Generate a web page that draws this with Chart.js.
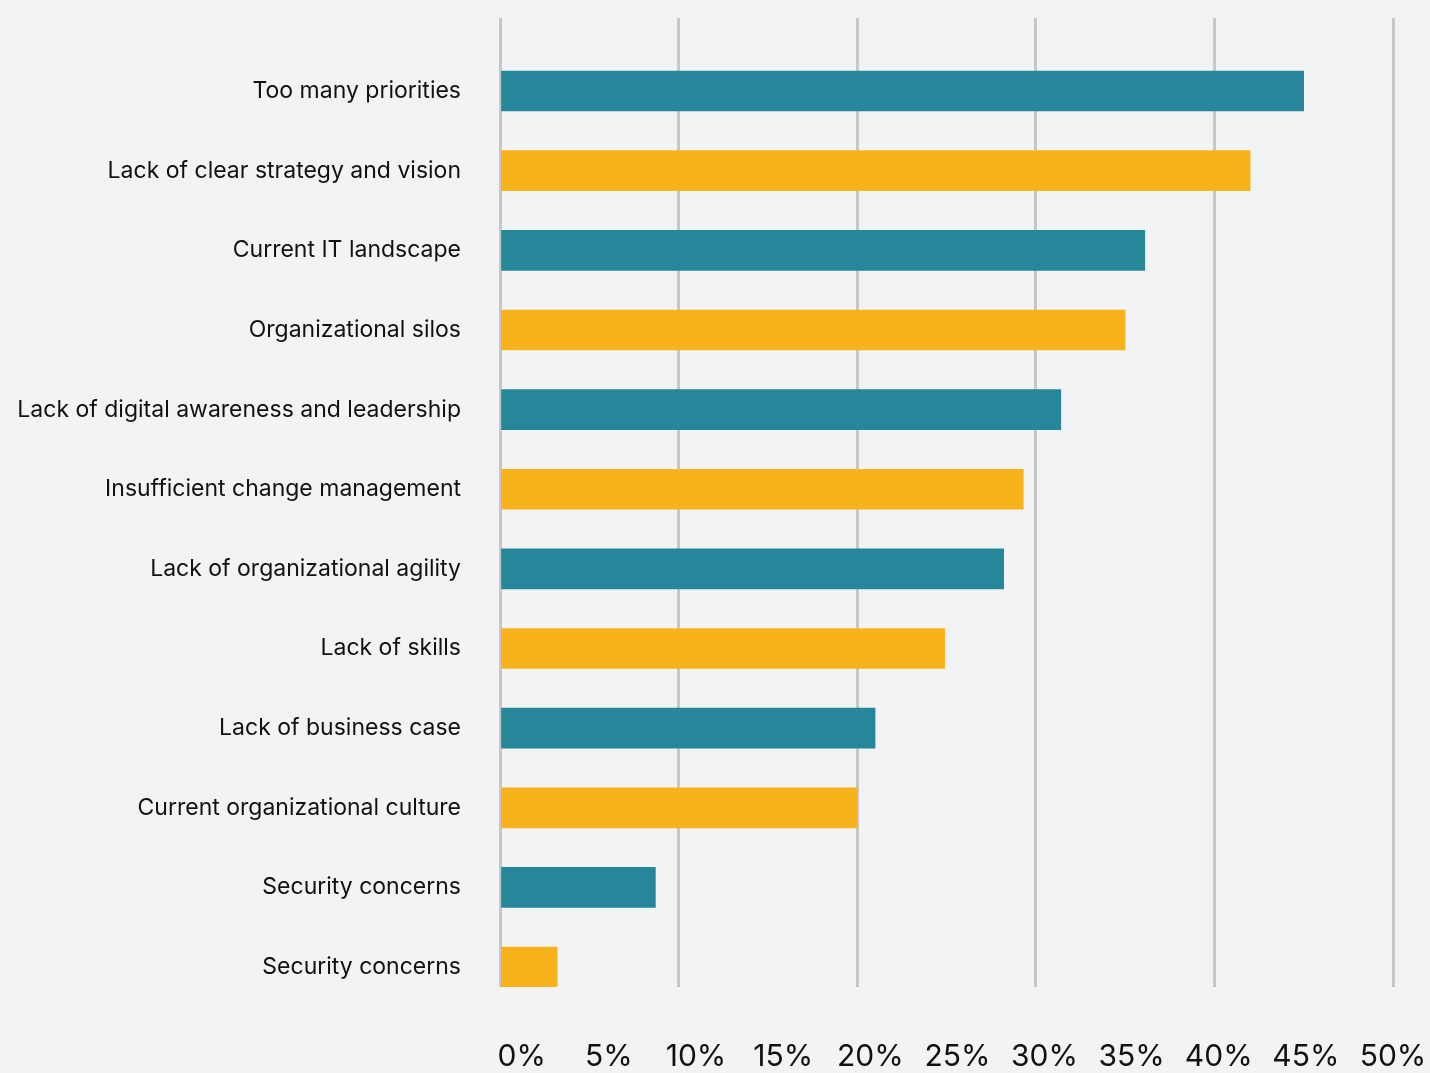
<!DOCTYPE html>
<html>
<head>
<meta charset="utf-8">
<script src="https://cdn.jsdelivr.net/npm/chart.js@4.4.0/dist/chart.umd.min.js"></script>
<style>
  body { margin: 0; background: #f2f3f5; }
  #wrap { width: 1430px; height: 1073px; }
</style>
</head>
<body>
<div id="wrap"><canvas id="myChart" width="1430" height="1073"></canvas></div>
<script>
const categories = [
    'Too many priorities',
    'Lack of clear strategy and vision',
    'Current IT landscape',
    'Organizational silos',
    'Lack of digital awareness and leadership',
    'Insufficient change management',
    'Lack of organizational agility',
    'Lack of skills',
    'Lack of business case',
    'Current organizational culture',
    'Security concerns',
    'Security concerns'
];
const values = [45, 42, 36.1, 35, 31.4, 29.3, 28.2, 24.9, 21, 20, 8.7, 3.2];
const barColors = ['#26879a', '#f8b21b'];
const tickValues = [0, 5, 10, 15, 20, 25, 30, 35, 40, 45, 50];
const gridValues = [0, 10, 20, 30, 40, 50];

const ctx = document.getElementById('myChart');

// no automatic label overflow padding, the layout is fixed by hand
function noPad(s) {
    s.paddingLeft = 0;
    s.paddingRight = 0;
    s.paddingTop = 0;
    s.paddingBottom = 0;
}

new Chart(ctx, {
    type: 'bar',
    data: {
        datasets: [{
            data: values.map((v, i) => ({ x: v, y: i })),
            backgroundColor: values.map((v, i) => barColors[i % 2]),
            barThickness: 40,
            borderWidth: 0
        }]
    },
    options: {
        indexAxis: 'y',
        responsive: false,
        animation: false,
        layout: { padding: { top: 18, right: 37, left: 0, bottom: 0 } },
        plugins: {
            legend: { display: false },
            tooltip: { enabled: false }
        },
        scales: {
            x: {
                type: 'linear',
                position: 'top',
                min: 0,
                max: 50,
                afterBuildTicks: s => { s.ticks = gridValues.map(v => ({ value: v })); },
                afterFit: s => { s.height = 0; noPad(s); },
                ticks: { display: false },
                border: { display: false },
                grid: { color: '#c6c7c9', lineWidth: 3, drawTicks: false }
            },
            x2: {
                type: 'linear',
                position: 'bottom',
                min: -1.25,
                max: 50,
                afterBuildTicks: s => { s.ticks = tickValues.map(v => ({ value: v })); },
                afterFit: s => { s.height = 86; noPad(s); },
                grid: { display: false, drawTicks: false },
                border: { display: false },
                ticks: {
                    padding: 52,
                    maxRotation: 0,
                    autoSkip: false,
                    color: '#111111',
                    font: { family: 'Inter', size: 30 },
                    callback: v => v + '%'
                }
            },
            y: {
                type: 'linear',
                reverse: true,
                offset: false,
                min: -0.917,
                max: 11.25,
                afterBuildTicks: s => { s.ticks = categories.map((c, i) => ({ value: i })); },
                afterFit: s => { s.width = 500; noPad(s); },
                grid: { display: false, drawTicks: false },
                border: { display: false },
                ticks: {
                    padding: 39,
                    autoSkip: false,
                    color: '#111111',
                    font: { family: 'Inter', size: 23 },
                    callback: v => categories[v]
                }
            }
        }
    }
});
</script>
</body>
</html>
